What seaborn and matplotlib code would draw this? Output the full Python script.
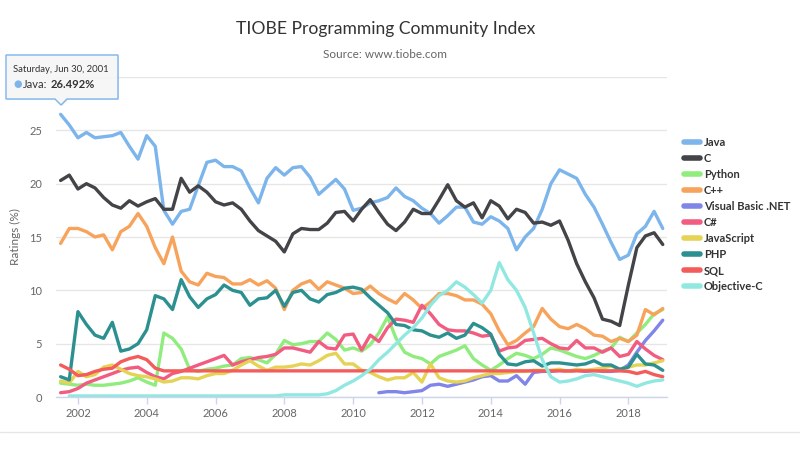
import numpy as np
import pandas as pd
import matplotlib
matplotlib.use("Agg")
import matplotlib.pyplot as plt
import seaborn as sns
from matplotlib.patches import Polygon
from matplotlib.lines import Line2D

# ---------------- data (quarterly readings, Jun 2001 .. Dec 2018) ----------------
try:
    dates = pd.date_range("2001-06-30", periods=71, freq="3ME")
except Exception:
    dates = pd.date_range("2001-06-30", periods=71, freq="3M")

languages = ["Java", "C", "Python", "C++", "Visual Basic .NET", "C#",
             "JavaScript", "PHP", "SQL", "Objective-C"]
colors = ["#7cb5ec", "#434348", "#90ed7d", "#f7a35c", "#8085e9", "#f15c80",
          "#e4d354", "#2b908f", "#f45b5b", "#91e8e1"]

java = [26.5, 25.5, 24.3, 24.8, 24.3, 24.4, 24.5, 24.8, 23.5, 22.3,
        24.5, 23.5, 17.5, 16.2, 17.4, 17.6, 19.8, 22.0, 22.2, 21.6,
        21.6, 21.2, 19.6, 18.2, 20.5, 21.5, 20.8, 21.5, 21.6, 20.6,
        19.0, 19.7, 20.4, 19.5, 17.5, 17.7, 18.2, 18.4, 18.7, 19.6,
        18.8, 18.4, 17.7, 17.2, 16.3, 17.0, 17.8, 17.8, 16.4, 16.2,
        16.9, 16.5, 15.8, 13.8, 15.0, 15.8, 17.6, 20.0, 21.3, 20.9,
        20.5, 19.0, 17.8, 16.2, 14.5, 12.9, 13.3, 15.3, 16.0, 17.4,
        15.8]
c_lang = [20.3, 20.8, 19.5, 20.0, 19.6, 18.7, 18.0, 17.7, 18.4, 17.9,
          18.3, 18.6, 17.6, 17.6, 20.5, 19.2, 19.8, 19.2, 18.3, 18.0,
          18.2, 17.6, 16.5, 15.6, 15.1, 14.6, 13.6, 15.3, 15.8, 15.7,
          15.7, 16.3, 17.3, 17.4, 16.5, 17.6, 18.5, 17.3, 16.2, 15.6,
          16.4, 17.6, 17.2, 17.2, 18.5, 19.9, 18.4, 17.8, 18.2, 16.8,
          18.4, 17.9, 16.7, 17.6, 17.3, 16.3, 16.4, 16.1, 16.5, 14.7,
          12.5, 10.8, 9.3, 7.3, 7.1, 6.7, 10.5, 14.0, 15.1, 15.4,
          14.3]
python = [1.3, 1.2, 1.1, 1.2, 1.1, 1.1, 1.2, 1.3, 1.5, 1.8,
          1.4, 1.1, 6.0, 5.5, 4.5, 2.6, 2.4, 2.6, 2.7, 2.9,
          3.0, 3.6, 3.7, 3.5, 3.2, 4.0, 5.3, 4.9, 5.0, 5.2,
          5.2, 6.0, 5.4, 4.4, 4.6, 4.3, 4.9, 6.0, 7.5, 5.5,
          4.2, 3.8, 3.6, 3.1, 3.8, 4.1, 4.4, 4.8, 3.6, 3.0,
          2.5, 3.0, 3.6, 4.1, 3.9, 3.6, 4.0, 4.6, 4.4, 4.1,
          3.8, 3.6, 3.9, 4.3, 4.6, 5.6, 5.2, 6.0, 6.8, 7.8,
          8.2]
cpp = [14.4, 15.8, 15.8, 15.5, 15.0, 15.2, 13.8, 15.5, 16.0, 17.2,
       16.0, 14.0, 12.5, 15.0, 11.8, 10.8, 10.5, 11.6, 11.3, 11.2,
       10.6, 10.6, 11.0, 10.5, 10.9, 10.2, 8.2, 10.0, 10.6, 10.9,
       10.1, 10.8, 10.5, 10.2, 9.7, 9.8, 10.4, 9.7, 9.2, 8.8,
       9.7, 9.1, 8.3, 8.9, 9.7, 9.7, 9.5, 9.1, 9.1, 8.7,
       7.8, 6.2, 4.9, 5.3, 6.0, 6.6, 8.3, 7.3, 6.6, 6.4,
       6.8, 6.4, 5.8, 5.7, 5.2, 5.5, 5.2, 5.8, 8.2, 7.7,
       8.3]
vbnet = [np.nan] * 37 + [
         0.4, 0.5, 0.5, 0.4, 0.5, 0.6, 1.1, 1.2, 1.0, 1.2,
         1.4, 1.6, 1.9, 2.0, 1.5, 1.5, 2.0, 1.2, 2.3, 2.4,
         2.4, 2.5, 2.4, 2.5, 2.4, 2.5, 2.4, 2.4, 2.5, 3.0,
         4.2, 5.3, 6.2, 7.2]
csharp = [0.4, 0.5, 0.8, 1.3, 1.6, 1.9, 2.2, 2.5, 2.7, 2.8,
          2.3, 1.9, 1.7, 2.2, 2.4, 2.7, 3.0, 3.3, 3.6, 3.9,
          3.0, 3.3, 3.5, 3.7, 3.8, 4.0, 4.6, 4.6, 4.4, 4.2,
          5.2, 4.6, 4.5, 5.8, 5.9, 4.4, 5.8, 5.2, 6.5, 7.3,
          7.2, 7.0, 8.6, 7.8, 6.8, 6.3, 6.2, 6.2, 6.0, 5.7,
          5.8, 4.3, 4.6, 4.7, 5.3, 5.4, 5.5, 5.0, 4.6, 4.5,
          5.3, 4.6, 4.6, 4.2, 4.6, 3.8, 4.0, 5.2, 4.5, 3.9,
          3.5]
javascript = [1.5, 1.3, 2.4, 1.9, 2.1, 2.8, 3.0, 2.6, 2.2, 2.0,
              1.9, 1.7, 1.4, 1.5, 1.8, 1.8, 1.7, 2.0, 2.2, 2.2,
              2.5, 3.0, 3.4, 2.9, 2.5, 2.8, 2.8, 2.9, 3.1, 3.0,
              3.4, 3.9, 4.1, 3.1, 3.1, 2.5, 2.3, 1.9, 1.6, 1.8,
              1.8, 2.3, 1.4, 3.1, 1.8, 1.5, 1.4, 1.5, 1.8, 2.0,
              2.2, 2.2, 2.3, 2.4, 2.4, 2.5, 2.5, 2.5, 2.6, 2.4,
              2.6, 2.5, 2.6, 2.7, 2.9, 2.6, 2.8, 3.0, 3.0, 3.2,
              3.4]
php = [1.9, 1.6, 8.0, 6.8, 5.8, 5.5, 7.0, 4.3, 4.5, 5.0,
       6.3, 9.5, 9.2, 8.2, 11.0, 9.4, 8.4, 9.2, 9.6, 10.5,
       10.0, 9.8, 8.6, 9.2, 9.3, 10.0, 8.5, 9.8, 10.0, 9.2,
       8.9, 9.6, 9.8, 10.2, 10.3, 10.1, 9.3, 8.6, 7.9, 6.8,
       6.7, 6.3, 6.2, 5.8, 5.6, 6.0, 5.5, 5.8, 6.9, 6.5,
       5.9, 4.0, 3.1, 3.0, 3.3, 3.4, 2.9, 3.2, 3.2, 3.1,
       3.0, 3.1, 3.4, 3.0, 3.0, 2.6, 2.8, 4.0, 3.1, 3.0,
       2.5]
sql = [3.0, 2.6, 2.0, 2.1, 2.4, 2.6, 2.7, 3.3, 3.6, 3.8,
       3.5, 2.7, 2.45, 2.45, 2.45, 2.45, 2.45, 2.45, 2.45, 2.45,
       2.45, 2.45, 2.45, 2.45, 2.45, 2.45, 2.45, 2.45, 2.45, 2.45,
       2.45, 2.45, 2.45, 2.45, 2.45, 2.45, 2.45, 2.45, 2.45, 2.45,
       2.45, 2.45, 2.45, 2.45, 2.45, 2.45, 2.45, 2.45, 2.45, 2.45,
       2.45, 2.45, 2.45, 2.45, 2.45, 2.45, 2.45, 2.45, 2.45, 2.45,
       2.45, 2.45, 2.45, 2.45, 2.45, 2.45, 2.4, 2.2, 2.4, 2.1,
       1.9]
objc = [np.nan,
        0.1, 0.1, 0.1, 0.1, 0.1, 0.1, 0.1, 0.1, 0.1, 0.1,
        0.1, 0.1, 0.1, 0.1, 0.1, 0.1, 0.1, 0.1, 0.1, 0.1,
        0.1, 0.1, 0.1, 0.1, 0.1, 0.2, 0.2, 0.2, 0.2, 0.2,
        0.3, 0.6, 1.1, 1.5, 2.0, 2.6, 3.5, 4.2, 5.0, 5.8,
        6.5, 7.4, 8.6, 9.5, 10.0, 10.8, 10.3, 9.6, 8.8, 10.0,
        12.6, 11.0, 10.0, 8.4, 6.0, 3.5, 1.9, 1.4, 1.5, 1.7,
        2.0, 2.1, 1.9, 1.7, 1.5, 1.3, 1.0, 1.3, 1.5, 1.6]

series = [java, c_lang, python, cpp, vbnet, csharp, javascript, php, sql, objc]

y_ticks = [0, 5, 10, 15, 20, 25, 30]
y_tick_labels = ["0", "5", "10", "15", "20", "25", ""]  # "30" hidden behind the tooltip
x_years = [2002, 2004, 2006, 2008, 2010, 2012, 2014, 2016, 2018]

frames = []
for name, vals in zip(languages, series):
    frames.append(pd.DataFrame({"date": dates, "rating": vals, "language": name}))
df = pd.concat(frames, ignore_index=True).dropna()

# ---------------- figure ----------------
sns.set_theme(style="white")
plt.rcParams["font.family"] = ["Lato", "DejaVu Sans"]

W, H = 800, 450
fig = plt.figure(figsize=(8, 4.5), dpi=100)
fig.patch.set_facecolor("white")
ax = fig.add_axes([56 / W, 1 - 397 / H, (667 - 56) / W, (397 - 77) / H])

sns.lineplot(data=df, x="date", y="rating", hue="language", hue_order=languages,
             palette=dict(zip(languages, colors)), linewidth=2.4, ax=ax,
             legend=False, estimator=None)

ax.set_ylim(0, 30)
ax.set_yticks(y_ticks)
ax.set_yticklabels(y_tick_labels)
ax.set_xlim(pd.Timestamp("2001-05-12"), pd.Timestamp("2019-02-14"))
ax.set_xticks([pd.Timestamp(f"{y}-01-01") for y in x_years])
ax.set_xticklabels([str(y) for y in x_years])
ax.set_xlabel("")
ax.set_ylabel("")
ax.yaxis.grid(True, color="#e6e6e6", lw=1)
ax.xaxis.grid(False)
ax.set_axisbelow(True)
for s in ["top", "right", "left"]:
    ax.spines[s].set_visible(False)
ax.spines["bottom"].set_color("#ccd6eb")
ax.spines["bottom"].set_linewidth(1)
ax.tick_params(axis="x", length=5, width=1, color="#ccd6eb", labelcolor="#666666",
               labelsize=8, pad=3, bottom=True)
ax.tick_params(axis="y", length=0, labelcolor="#666666", labelsize=8, pad=10)

# legend
handles = [Line2D([0], [0], color=c, lw=4) for c in colors]
leg = fig.legend(handles, languages, loc="upper left",
                 bbox_to_anchor=(684 / W, 1 - 137 / H), frameon=False,
                 borderpad=0, borderaxespad=0, handlelength=1.45,
                 handletextpad=0.35, labelspacing=0.45,
                 prop={"family": ["Lato", "DejaVu Sans"], "weight": "bold", "size": 8})
for t in leg.get_texts():
    t.set_color("#333333")

# titles
fig.text(386 / W, 1 - 29 / H, "TIOBE Programming Community Index", ha="center",
         va="center", fontsize=12.6, color="#333333")
fig.text(385 / W, 1 - 55 / H, "Source: www.tiobe.com", ha="center", va="center",
         fontsize=8.5, color="#666666")
fig.text(15 / W, 1 - 237 / H, "Ratings (%)", rotation=90, ha="center", va="center",
         fontsize=8.5, color="#666666")

# separator line at the bottom
fig.add_artist(Line2D([0, 1], [1 - 432 / H] * 2, color="#e6e6e6", lw=1,
                      transform=fig.transFigure))

# tooltip
def px(x, y):
    return (x / 100.0, (H - y) / 100.0)

shape = [px(6, 55), px(118, 55), px(118, 99), px(67, 99), px(61, 105), px(55, 99), px(6, 99)]
shadow = [(a + 0.01, b - 0.01) for a, b in shape]
fig.add_artist(Polygon(shadow, closed=True, transform=fig.dpi_scale_trans,
                       facecolor=(0, 0, 0, 0.08), edgecolor="none", zorder=9))
fig.add_artist(Polygon(shape, closed=True, transform=fig.dpi_scale_trans,
                       facecolor=(0.97, 0.97, 0.97, 0.92), edgecolor="#7cb5ec",
                       lw=1, zorder=10))
fig.text(13 / W, 1 - 70 / H, "Saturday, Jun 30, 2001", ha="left", va="center",
         fontsize=6.8, color="#333333", zorder=11)
fig.text(13 / W, 1 - 84 / H, "\u25cf", ha="left", va="center", fontsize=7,
         color="#7cb5ec", family=["DejaVu Sans"], zorder=11)
fig.text(23 / W, 1 - 84 / H, "Java:", ha="left", va="center", fontsize=8,
         color="#333333", zorder=11)
fig.text(51 / W, 1 - 84 / H, "26.492%", ha="left", va="center", fontsize=8,
         color="#333333", weight="bold", zorder=11)

fig.savefig("out.png", dpi=100, facecolor="white")
